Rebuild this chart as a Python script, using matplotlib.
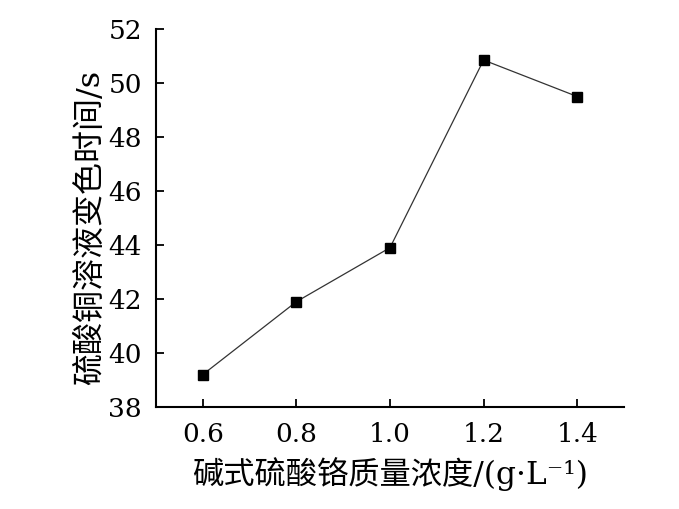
import matplotlib.pyplot as plt

# 碱式硫酸铬质量浓度 vs 硫酸铜溶液变色时间
conc = [0.6, 0.8, 1.0, 1.2, 1.4]
time_s = [39.2, 41.9, 43.9, 50.85, 49.5]
xticks = [0.6, 0.8, 1.0, 1.2, 1.4]
yticks = [38, 40, 42, 44, 46, 48, 50, 52]

fam = ['DejaVu Serif', 'Noto Sans CJK SC']
plt.rcParams['font.family'] = fam

fig = plt.figure(figsize=(6.79, 5.09), dpi=100)
ax = fig.add_axes([0.2297, 0.2004, 0.919 - 0.2297, 0.943 - 0.2004])

ax.plot(conc, time_s, '-', color='#333333', linewidth=0.9,
        marker='s', markersize=7, markerfacecolor='black', markeredgecolor='black')

ax.set_xlim(0.5, 1.5)
ax.set_ylim(38, 52)
ax.set_xticks(xticks)
ax.set_xticklabels([f'{v:.1f}' for v in xticks])
ax.set_yticks(yticks)

for s in ['top', 'right']:
    ax.spines[s].set_visible(False)
for s in ['left', 'bottom']:
    ax.spines[s].set_linewidth(1.5)

ax.tick_params(direction='in', length=6, width=1.3, labelsize=19)
ax.tick_params(axis='x', pad=11)
ax.tick_params(axis='y', pad=10)

ax.set_xlabel('碱式硫酸铬质量浓度/(g·L⁻¹)', fontsize=22.5, labelpad=7)
ax.set_ylabel('硫酸铜溶液变色时间/s', fontsize=23, labelpad=2)
ax.yaxis.label.set_y(0.476)

fig.savefig('out.png', dpi=100)
